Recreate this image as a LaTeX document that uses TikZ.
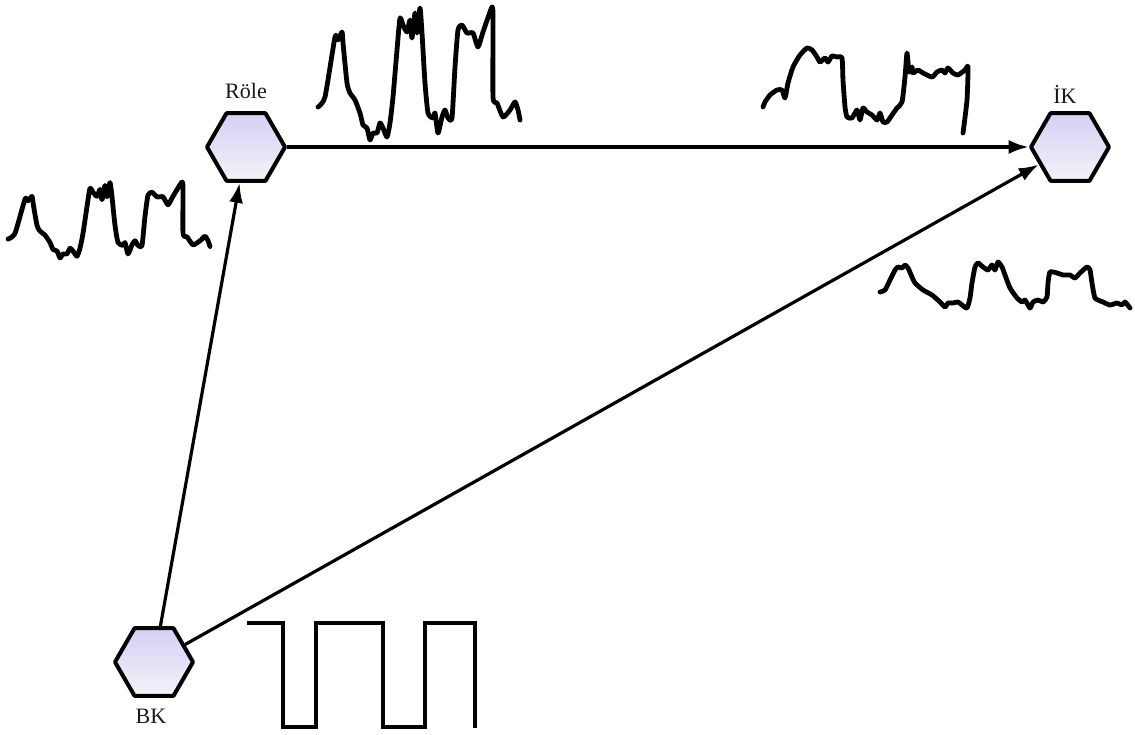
\documentclass[tikz,border=0pt]{standalone}
\usepackage{fontspec}
\setmainfont{Liberation Serif}
\usetikzlibrary{shapes.geometric,arrows.meta,shadows}
\begin{document}
\begin{tikzpicture}[x=1pt,y=-1pt,
  hexnode/.style={regular polygon, regular polygon sides=6,
    minimum size=78pt, inner sep=0pt, draw=black, line width=4pt, line join=round,
    top color={rgb,255:red,212;green,208;blue,245}, bottom color={rgb,255:red,243;green,243;blue,247},
    drop shadow={shadow xshift=2pt, shadow yshift=-2pt, opacity=0.25, fill={rgb,255:red,150;green,175;blue,170}}},
  lbl/.style={font=\fontsize{22}{26}\selectfont, text={rgb,255:red,25;green,25;blue,25}, inner sep=0pt},
  arr/.style={line width=3.2pt, -{Latex[length=20pt,width=14pt]}},
  wave/.style={line width=4.8pt, line cap=round, line join=round}]
\useasboundingbox (0,0) rectangle (1135,734);

% nodes
\node[hexnode] (role) at (246,147) {};
\node[hexnode] (ik) at (1070,147) {};
\node[hexnode] (bk) at (154,662) {};
\node[lbl, anchor=base] (rolelbl) at (246,98) {Röle};
\node[lbl, anchor=base] (iklbl) at (1065,103) {İK};
\node[lbl, anchor=base] (bklbl) at (151,723) {BK};

% connectors
\draw[arr] (bk) -- (role);
\draw[arr] (role) -- (ik);
\draw[arr] (bk) -- (ik);

% wave A (top middle) and its copy B (left)
\def\waveA{(318,107) (325,97) (335,37) (338,40) (342,32) (343,43) (347,83) (350,93) (355,100) (360,113) (363,125) (367,128) (370,140) (373,133) (377,133) (380,123) (383,128) (387,137) (390,123) (393,97) (397,50) (400,18) (403,25) (407,32) (410,20) (412,38) (415,13) (417,33) (420,8) (422,33) (425,83) (428,113) (433,118) (435,113) (438,133) (442,117) (445,110) (448,118) (452,118) (455,67) (458,30) (462,25) (467,33) (473,33) (478,47) (483,32) (492,7) (493,20) (493,97) (497,103) (503,117) (510,110) (515,102) (518,110) (520,120)}
\draw[wave] plot[smooth, tension=0.35] coordinates {\waveA};
\begin{scope}[shift={(-310,178)}, yscale=0.571]
\draw[wave] plot[smooth, tension=0.35] coordinates {\waveA};
\end{scope}

% wave C (top right)
\draw[wave] plot[smooth, tension=0.35] coordinates {(763,107) (765,102) (770,95) (777,90) (782,90) (785,98) (788,83) (793,67) (800,55) (807,48) (812,50) (817,57) (820,62) (825,58) (828,62) (832,56) (837,57) (842,58) (843,80) (845,107) (847,117) (852,118) (857,110) (860,120) (863,108) (867,112) (872,115) (877,120) (880,113) (883,122) (887,122) (892,115) (897,108) (902,102) (905,77) (907,53) (909,72) (912,67) (913,73) (918,70) (923,73) (932,77) (937,72) (942,70) (945,73) (948,68) (953,73) (958,75) (965,70) (968,67) (967,100) (963,133)};

% wave D (right lower)
\draw[wave] plot[smooth, tension=0.35] coordinates {(880,292) (885,290) (890,280) (895,270) (898,267) (902,268) (905,265) (908,268) (912,277) (915,283) (923,290) (932,295) (940,302) (945,307) (948,303) (953,303) (958,302) (962,305) (967,308) (970,298) (972,283) (975,267) (978,263) (983,267) (988,270) (992,265) (995,270) (998,262) (1002,267) (1005,275) (1010,288) (1017,298) (1022,302) (1025,300) (1030,308) (1033,302) (1038,300) (1043,302) (1047,297) (1048,283) (1050,272) (1057,273) (1063,275) (1070,275) (1075,278) (1080,273) (1087,267) (1090,270) (1092,283) (1095,298) (1103,302) (1110,305) (1117,303) (1122,305) (1125,302) (1130,308)};

% square wave
\draw[wave, line width=4.2pt, line join=miter, line cap=butt] (247,623) -- (283,623) -- (283,727) -- (316,727) -- (316,623) -- (383,623) -- (383,727) -- (425,727) -- (425,623) -- (475,623) -- (475,728);
\end{tikzpicture}
\end{document}
